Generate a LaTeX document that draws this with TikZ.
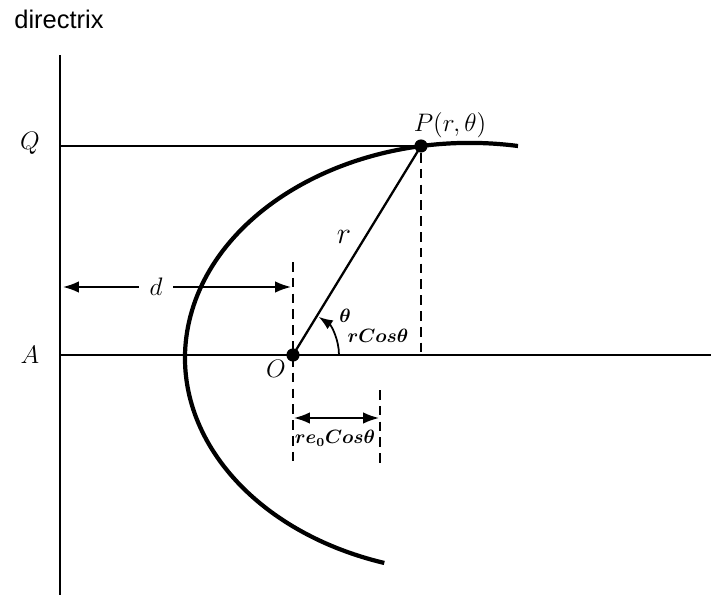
\documentclass[tikz,border=0pt]{standalone}
\usepackage{fontspec}
\usepackage{amsmath}
\usepackage{bm}
\usetikzlibrary{arrows.meta,positioning}
\newfontfamily\dirfont{Liberation Sans}

\begin{document}
\begin{tikzpicture}[
  x=0.02cm, y=-0.02cm,
  axis/.style={line width=1.3pt},
  conic/.style={line width=2.4pt},
  guide/.style={line width=1.4pt, dash pattern=on 5.5pt off 3.5pt},
  dot/.style={circle, fill=black, inner sep=0pt, minimum size=7.5pt},
  lbl/.style={font=\fontsize{14.5}{16}\selectfont, inner sep=1pt},
  sml/.style={font=\fontsize{10.5}{12}\selectfont, inner sep=1pt},
  dimarr/.style={line width=1pt, {Latex[length=9pt,width=6.5pt]}-{Latex[length=9pt,width=6.5pt]}},
]
\useasboundingbox (0,0) rectangle (725,595);
% ---------- directrix and axes ----------
\node[font=\dirfont\fontsize{14.5}{16}\selectfont] (dirlab) at (59,19) {directrix};
\coordinate (dtop) at (60,55);
\coordinate (dbot) at (60,595);
\draw[line width=1.5pt] (dtop) -- (dbot);
\node[dot] (O) at (293,355) {};
\node[dot] (P) at (421,146) {};
\node[lbl] (Q) at (30,143) {$Q$};
\node[lbl] (A) at (30,355) {$A$};
\coordinate (Qd) at (60,146);
\coordinate (Ad) at (60,355);
\coordinate (axend) at (711,355);
\draw[axis] (Qd) -- (P.center);
\draw[axis] (Ad) -- (axend);
\draw[axis] (O.center) -- (P.center);
% ---------- conic ----------
\draw[conic] (518,146) arc[start angle=-80.3, end angle=-252.5, x radius=285, y radius=215];
% ---------- guides ----------
\coordinate (gOt) at (293,262);
\coordinate (gOb) at (293,462);
\coordinate (gPb) at (421,352);
\coordinate (gEt) at (380,390);
\coordinate (gEb) at (380,466);
\draw[guide] (gOt) -- (gOb);
\draw[guide] (P.south) -- (gPb);
\draw[guide] (gEt) -- (gEb);
% ---------- dimensions ----------
\coordinate (dl) at (63,287);
\coordinate (dr) at (291,287);
\draw[dimarr] (dl) -- (dr);
\node[lbl, fill=white, inner xsep=6pt] (dlab) at (156,287) {$d$};
\coordinate (el) at (294,418);
\coordinate (er) at (379,418);
\draw[dimarr] (el) -- (er);
\node[sml] (elab) at (335,438) {$\bm{re_0Cos\theta}$};
\draw[line width=1pt, -{Latex[length=8pt,width=6pt]}] (O.center) ++(46,0) arc[start angle=0, end angle=-56, radius=46];
% ---------- labels ----------
\node[lbl] (Olab) at (276,369) {$O$};
\node[lbl, font=\fontsize{14}{16}\selectfont] (Plab) at (450,125) {$P(r,\theta)$};
\node[lbl, font=\fontsize{17}{19}\selectfont] (rlab) at (344,237) {$r$};
\node[sml] (thlab) at (345,316) {$\bm{\theta}$};
\node[sml] (rclab) at (378,336) {$\bm{rCos\theta}$};
\end{tikzpicture}
\end{document}
